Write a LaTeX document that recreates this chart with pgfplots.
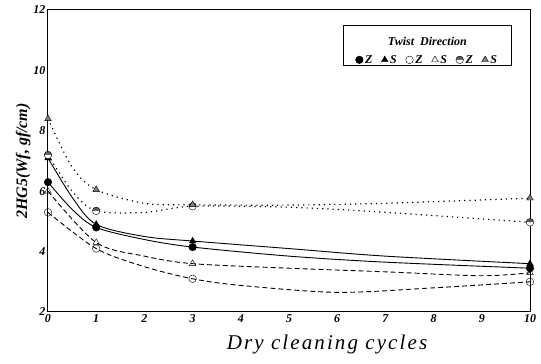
\documentclass[border=0pt]{standalone}
\usepackage{fontspec}
\setmainfont{Liberation Serif}
\newfontfamily\xlabfont[LetterSpace=10]{Liberation Serif}
\usepackage{pgfplots}
\pgfplotsset{compat=1.18}
\begin{document}
\begin{tikzpicture}
\begin{axis}[
  width=482pt, height=302pt, scale only axis,
  xmin=0, xmax=10, ymin=2, ymax=12,
  xtick={0,...,10}, ytick={2,4,...,12},
  tick style={draw=none},
  /pgf/number format/assume math mode=true,
  ticklabel style={font=\fontsize{12}{13}\selectfont\bfseries\itshape},
  xticklabel style={yshift=1pt},
  yticklabel style={xshift=1pt},
  axis line style={line width=1pt},
  xlabel={\xlabfont\fontsize{21}{22}\selectfont\itshape Dry cleaning cycles},
  ylabel={\fontsize{16}{17}\selectfont\bfseries\itshape 2HG5(Wf, gf/cm)},
  xlabel style={yshift=-5pt, xshift=38pt},
  ylabel style={yshift=-4pt},
  legend columns=6,
  legend style={at={(rel axis cs:0.787,0.835)}, anchor=center, draw=none, fill=none,
    font=\fontsize{12}{13}\selectfont\bfseries\itshape,
    /tikz/every odd column/.append style={column sep=0pt},
    /tikz/every even column/.append style={column sep=7pt}},
  legend image code/.code={\draw[mark repeat=2,mark phase=2] plot coordinates {(0cm,0cm) (0.15cm,0cm) (0.3cm,0cm)};},
  legend image post style={xshift=0.1cm},
  clip=false,
]
% curves
\addplot[black, line width=0.9pt, smooth, forget plot] coordinates {(0,6.3) (0.5,5.4) (1,4.8) (2,4.4) (3,4.15) (5,3.85) (7,3.65) (10,3.45)};
\addplot[black, line width=0.9pt, smooth, forget plot] coordinates {(0,7.1) (0.5,5.8) (1,4.9) (2,4.5) (3,4.35) (5,4.1) (7,3.85) (10,3.6)};
\addplot[black, line width=0.9pt, dash pattern=on 5pt off 3pt, smooth, forget plot] coordinates {(0,5.3) (1,4.1) (2,3.5) (3,3.1) (4,2.88) (6,2.65) (8,2.8) (10,3.0)};
\addplot[black, line width=0.9pt, dash pattern=on 5pt off 3pt, smooth, forget plot] coordinates {(0,6.0) (1,4.3) (2,3.85) (3,3.6) (5,3.45) (7,3.33) (9,3.2) (10,3.3)};
\addplot[black, line width=1.2pt, dash pattern=on 1.2pt off 4pt, smooth, forget plot] coordinates {(0,7.2) (0.5,6.0) (1,5.35) (2,5.3) (3,5.5) (5,5.47) (7,5.3) (10,4.97)};
\addplot[black, line width=1.2pt, dash pattern=on 1.2pt off 4pt, smooth, forget plot] coordinates {(0,8.4) (0.5,6.8) (1,6.05) (2,5.6) (3,5.55) (5,5.54) (7,5.6) (10,5.77)};
% marks
\addplot[only marks, mark=*, mark size=3.8pt, black] coordinates {(0,6.3) (1,4.8) (3,4.15) (10,3.45)};
\addlegendentry{Z}
\addplot[only marks, mark=triangle*, mark size=3.8pt, black] coordinates {(0,7.1) (1,4.9) (3,4.35) (10,3.6)};
\addlegendentry{S}
\addplot[only marks, mark=o, mark size=3.8pt, black, mark options={fill=white}] coordinates {(0,5.3) (1,4.1) (3,3.1) (10,3.0)};
\addlegendentry{Z}
\addplot[only marks, mark=triangle, mark size=3.8pt, black, mark options={fill=white}] coordinates {(0,6.0) (1,4.3) (3,3.6) (10,3.3)};
\addlegendentry{S}
\addplot[only marks, mark=halfcircle*, mark size=3.8pt, black, mark options={fill=gray!70!black}] coordinates {(0,7.2) (1,5.35) (3,5.5) (10,4.97)};
\addlegendentry{Z}
\addplot[only marks, mark=triangle*, mark size=3.8pt, black, mark options={fill=gray}] coordinates {(0,8.4) (1,6.05) (3,5.55) (10,5.77)};
\addlegendentry{S}
\draw[line width=0.8pt] (rel axis cs:0.613,0.95) rectangle (rel axis cs:0.962,0.818);
\node[font=\fontsize{12}{13}\selectfont\bfseries\itshape] at (rel axis cs:0.787,0.895) {Twist\ \ Direction};
\end{axis}
\pgfresetboundingbox
\path[use as bounding box] (-48pt,-52pt) rectangle (493pt,312pt);
\end{tikzpicture}
\end{document}
